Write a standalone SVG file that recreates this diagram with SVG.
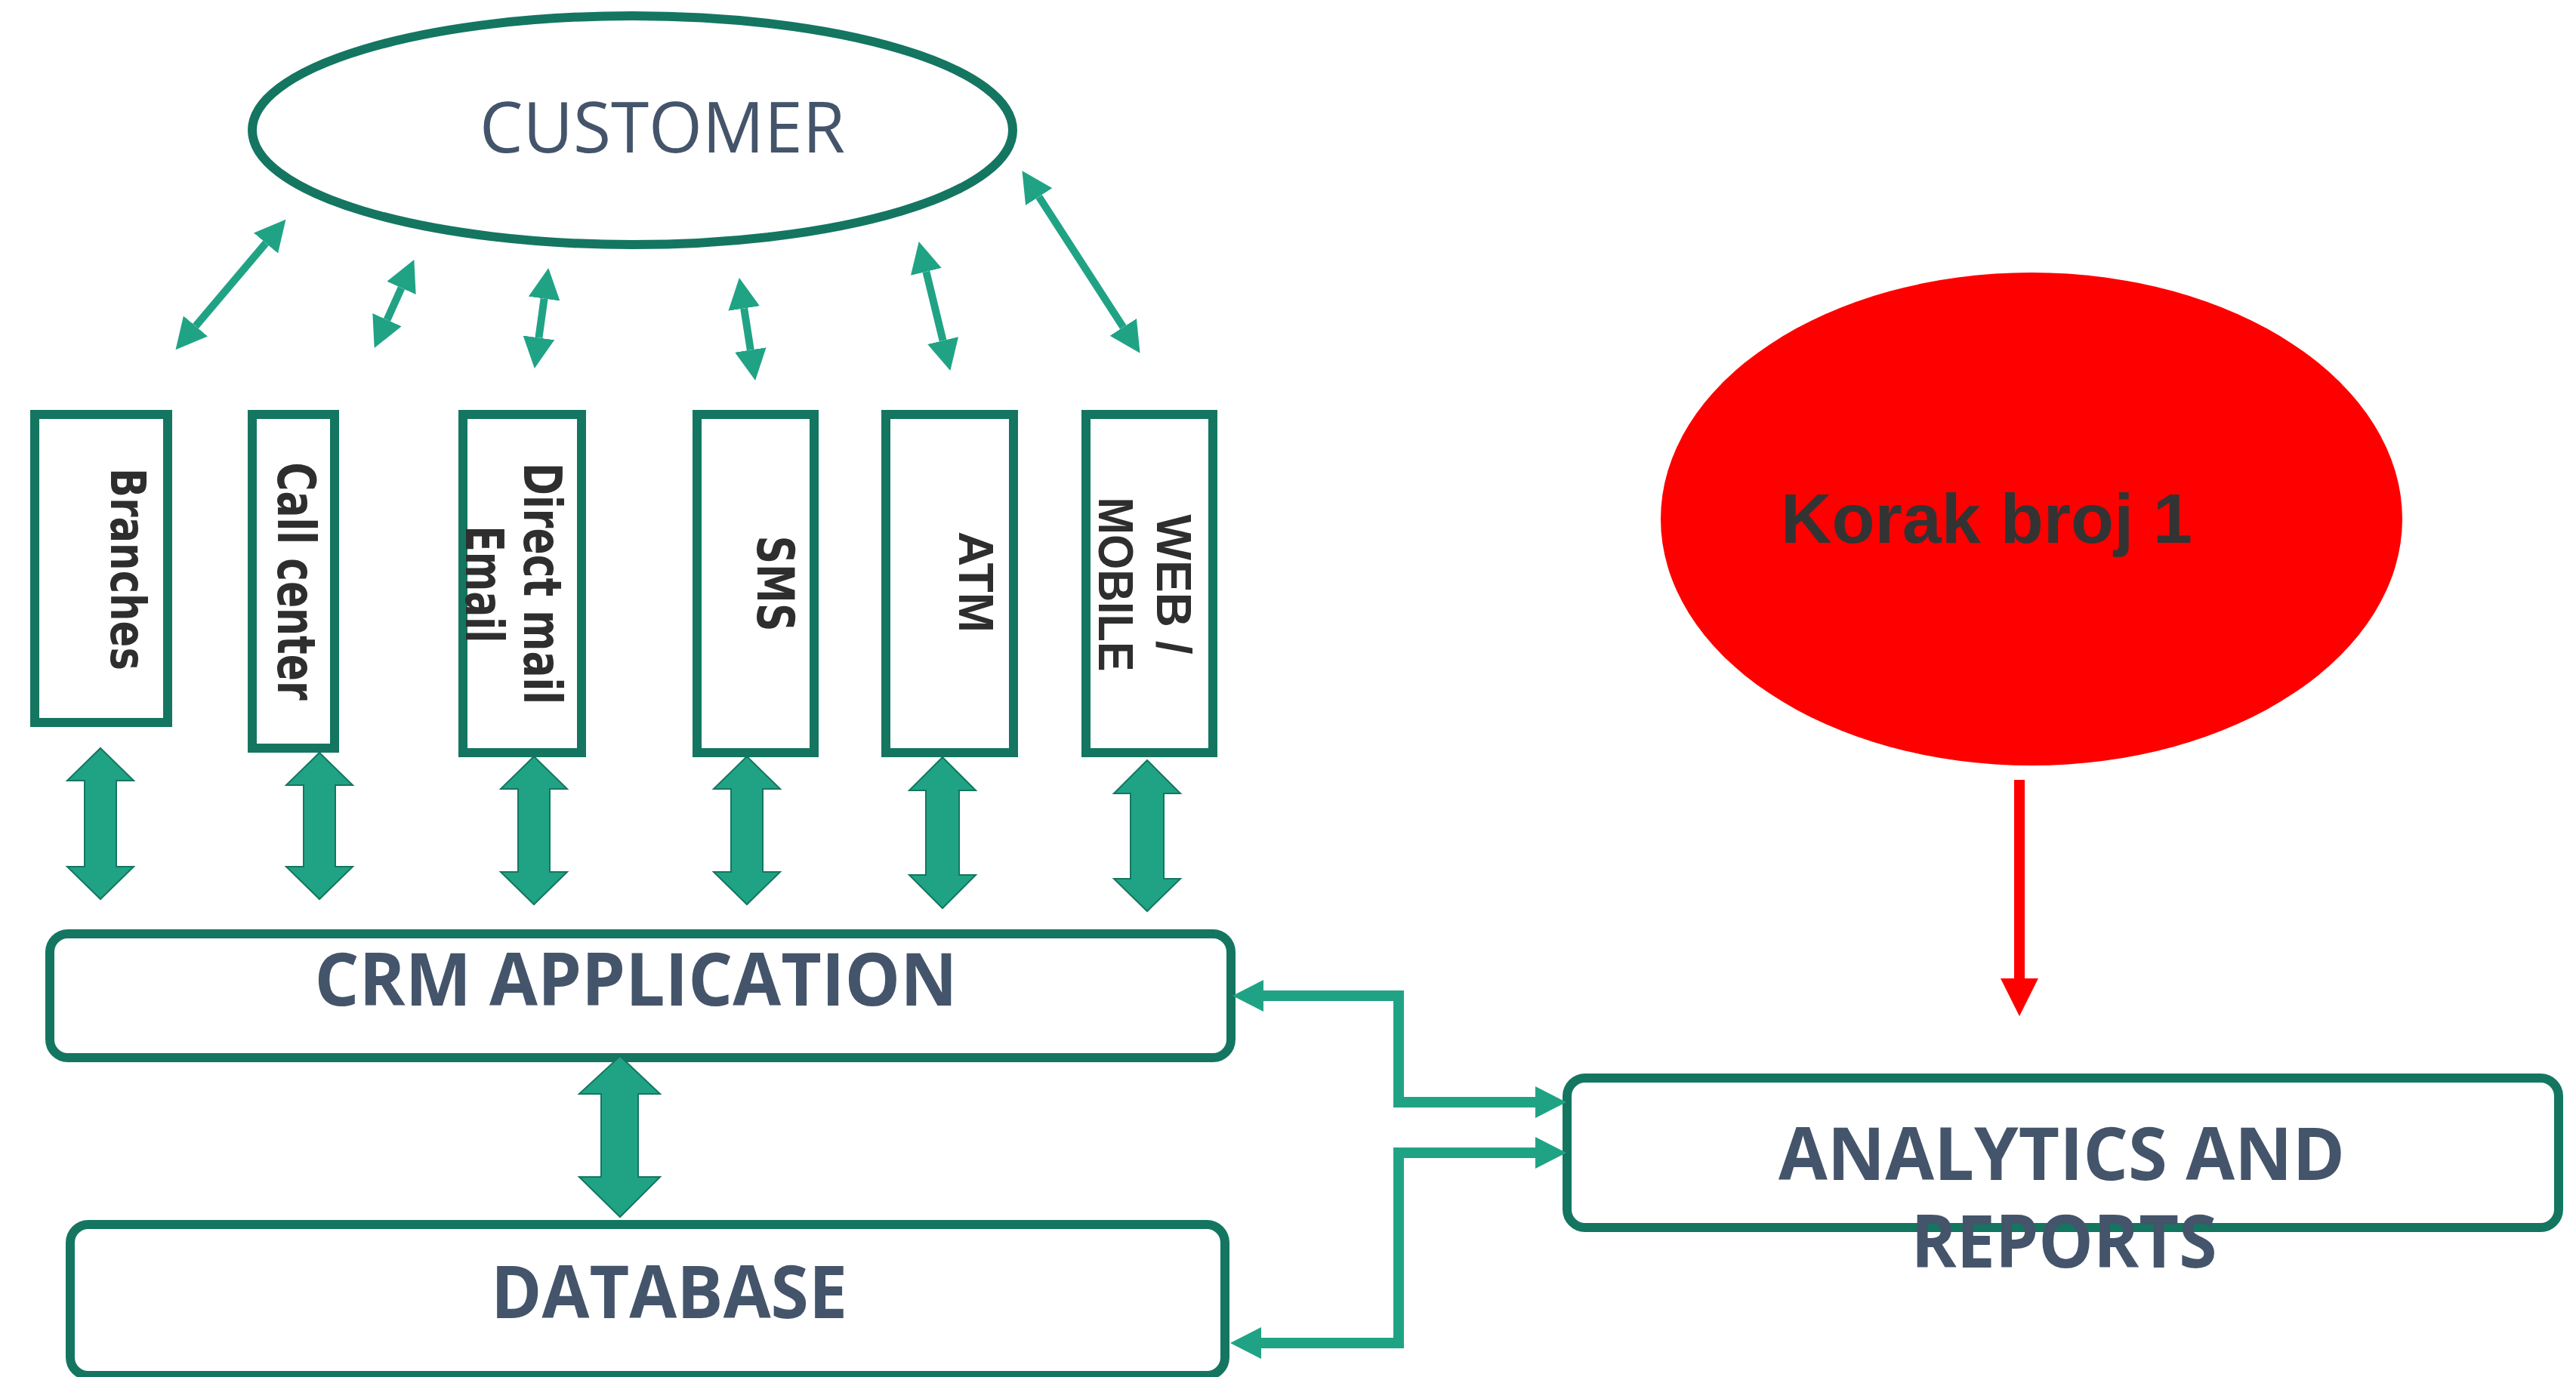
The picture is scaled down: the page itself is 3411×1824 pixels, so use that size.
<svg xmlns="http://www.w3.org/2000/svg" width="3411" height="1824" viewBox="0 0 3411 1824">
  <style>
    .node { fill: #ffffff; stroke: #147660; stroke-width: 12; }
    .title { font-family: "Open Sans", "Noto Sans", "Liberation Sans", sans-serif; font-weight: 700; font-size: 96px; fill: #44546A; text-anchor: middle; }
    .plain { font-family: "Open Sans", "Noto Sans", "Liberation Sans", sans-serif; font-weight: 400; font-size: 93px; fill: #44546A; text-anchor: middle; }
    .chan { font-family: "DejaVu Sans", "Liberation Sans", sans-serif; font-weight: 700; fill: #2E2E2E; text-anchor: middle; }
    .chan2 { font-family: "Liberation Sans", Arial, sans-serif; font-weight: 700; font-size: 64px; fill: #2E2E2E; text-anchor: middle; }
    .thin { fill: none; stroke: #20A385; stroke-width: 10; }
    .elbow { fill: none; stroke: #20A385; stroke-width: 14; }
    .block { fill: #20A385; stroke: #147660; stroke-width: 2; stroke-linejoin: miter; }
  </style>
  <defs>
    <marker id="head" markerUnits="userSpaceOnUse" viewBox="0 -21 41 42" refX="0" refY="0" markerWidth="41" markerHeight="42" orient="auto-start-reverse">
      <path d="M0,-21 L41,0 L0,21 Z" fill="#20A385"/>
    </marker>
  </defs>

  <!-- customer -->
  <g id="customer">
    <ellipse class="node" cx="837.5" cy="172.5" rx="503.5" ry="151.5"/>
    <text class="plain" x="877" y="202" textLength="484" lengthAdjust="spacingAndGlyphs">CUSTOMER</text>
  </g>

  <!-- channels -->
  <g id="branches">
    <rect class="node" x="46" y="549" width="176" height="408"/>
    <text class="chan" font-size="64" transform="translate(147,754) rotate(90)" textLength="268" lengthAdjust="spacingAndGlyphs">Branches</text>
  </g>
  <g id="call-center">
    <rect class="node" x="334" y="549" width="109" height="442"/>
    <text class="chan" font-size="70" transform="translate(368,770) rotate(90)" textLength="315" lengthAdjust="spacingAndGlyphs">Call center</text>
  </g>
  <g id="direct-mail">
    <rect class="node" x="613" y="549" width="157" height="448"/>
    <text class="chan" font-size="70" transform="translate(694,773) rotate(90)" textLength="320" lengthAdjust="spacingAndGlyphs">Direct mail</text>
    <text class="chan" font-size="70" transform="translate(617,774) rotate(90)" textLength="155" lengthAdjust="spacingAndGlyphs">Email</text>
  </g>
  <g id="sms">
    <rect class="node" x="923" y="549" width="155" height="448"/>
    <text class="chan" font-size="67" transform="translate(1003,773) rotate(90)" textLength="127" lengthAdjust="spacingAndGlyphs">SMS</text>
  </g>
  <g id="atm">
    <rect class="node" x="1173" y="549" width="169" height="448"/>
    <text class="chan2" transform="translate(1270,771) rotate(90)" textLength="134" lengthAdjust="spacingAndGlyphs">ATM</text>
  </g>
  <g id="web-mobile">
    <rect class="node" x="1438" y="549" width="168" height="448"/>
    <text class="chan2" transform="translate(1532,774) rotate(90)" textLength="185" lengthAdjust="spacingAndGlyphs">WEB /</text>
    <text class="chan2" transform="translate(1455,774) rotate(90)" textLength="231" lengthAdjust="spacingAndGlyphs">MOBILE</text>
  </g>

  <!-- core systems -->
  <g id="crm-application">
    <rect class="node" x="66" y="1237" width="1564" height="164" rx="24" ry="24"/>
    <text class="title" x="842" y="1332" textLength="851" lengthAdjust="spacingAndGlyphs">CRM APPLICATION</text>
  </g>
  <g id="database">
    <rect class="node" x="93" y="1622" width="1529" height="200" rx="24" ry="24"/>
    <text class="title" x="886" y="1746" textLength="472" lengthAdjust="spacingAndGlyphs">DATABASE</text>
  </g>
  <g id="analytics">
    <rect class="node" x="2075" y="1428" width="1313" height="198" rx="24" ry="24"/>
    <text class="title" x="2730" y="1563" textLength="750" lengthAdjust="spacingAndGlyphs">ANALYTICS AND</text>
    <text class="title" x="2733" y="1679" textLength="405" lengthAdjust="spacingAndGlyphs">REPORTS</text>
  </g>

  <!-- step marker -->
  <g id="step-1">
    <ellipse cx="2690" cy="687.5" rx="491" ry="326.5" fill="#FF0000"/>
    <text x="2358" y="719" font-family="'Liberation Sans', Arial, sans-serif" font-weight="700" font-size="93" fill="#333333" textLength="545" lengthAdjust="spacingAndGlyphs">Korak broj 1</text>
  </g>

  <!-- connectors -->
  <g id="connectors">
    <!-- customer to channels -->
    <line class="thin" x1="259" y1="432" x2="352" y2="322" marker-start="url(#head)" marker-end="url(#head)"/>
    <line class="thin" x1="512.5" y1="423.6" x2="531.5" y2="381.4" marker-start="url(#head)" marker-end="url(#head)"/>
    <line class="thin" x1="713.4" y1="447.4" x2="720.6" y2="395.6" marker-start="url(#head)" marker-end="url(#head)"/>
    <line class="thin" x1="993.8" y1="463.5" x2="985.2" y2="408.5" marker-start="url(#head)" marker-end="url(#head)"/>
    <line class="thin" x1="1248.6" y1="451.1" x2="1226.4" y2="359.9" marker-start="url(#head)" marker-end="url(#head)"/>
    <line class="thin" x1="1487.3" y1="433.4" x2="1375.7" y2="260.6" marker-start="url(#head)" marker-end="url(#head)"/>

    <!-- channels to CRM -->
    <polygon class="block" points="133,991 177,1034 154,1034 154,1148 177,1148 133,1191 89,1148 112,1148 112,1034 89,1034"/>
    <polygon class="block" points="423,997 467,1040 444,1040 444,1148 467,1148 423,1191 379,1148 402,1148 402,1040 379,1040"/>
    <polygon class="block" points="707,1002 751,1045 728,1045 728,1155 751,1155 707,1198 663,1155 686,1155 686,1045 663,1045"/>
    <polygon class="block" points="989,1002 1033,1045 1010,1045 1010,1155 1033,1155 989,1198 945,1155 968,1155 968,1045 945,1045"/>
    <polygon class="block" points="1248,1003 1292,1047 1270,1047 1270,1159 1292,1159 1248,1203 1204,1159 1226,1159 1226,1047 1204,1047"/>
    <polygon class="block" points="1519,1007 1563,1051 1541,1051 1541,1164 1563,1164 1519,1207 1475,1164 1497,1164 1497,1051 1475,1051"/>

    <!-- CRM to database -->
    <polygon class="block" points="821,1399 874,1449 845,1449 845,1559 874,1559 821,1612 767,1559 796,1559 796,1449 767,1449"/>

    <!-- CRM and database to analytics -->
    <path class="elbow" d="M1673,1319 H1852 V1460 H2033" marker-start="url(#head)" marker-end="url(#head)"/>
    <path class="elbow" d="M1670,1779 H1852 V1527 H2033" marker-start="url(#head)" marker-end="url(#head)"/>

    <!-- step marker to analytics -->
    <line x1="2674" y1="1033" x2="2674" y2="1298" stroke="#FF0000" stroke-width="14"/>
    <polygon points="2649,1296 2699,1296 2674,1346" fill="#FF0000"/>
  </g>
</svg>
